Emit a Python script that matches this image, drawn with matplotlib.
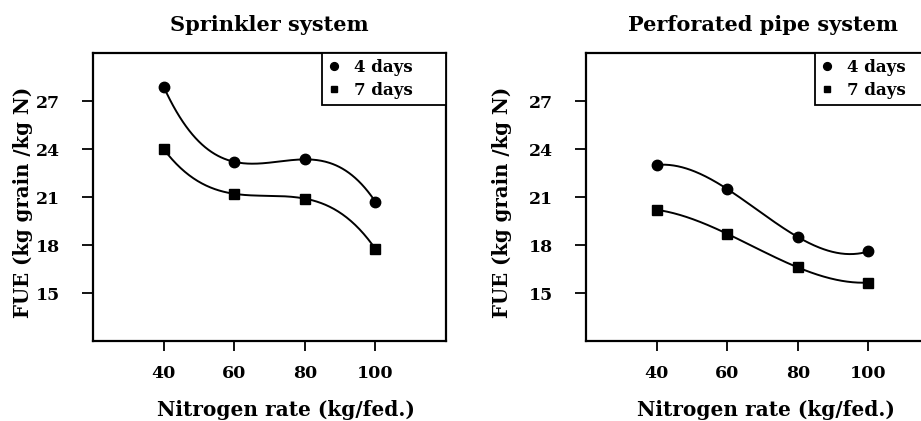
import numpy as np
import matplotlib
matplotlib.use("Agg")
import matplotlib.pyplot as plt

# Data
nitrogen = [40, 60, 80, 100]
sprinkler_4d = [27.9, 23.2, 23.35, 20.7]
sprinkler_7d = [24.0, 21.2, 20.9, 17.75]
pipe_4d = [23.0, 21.5, 18.5, 17.6]
pipe_7d = [20.2, 18.7, 16.6, 15.65]
yticks = [15, 18, 21, 24, 27]
xticks = [40, 60, 80, 100]

plt.rcParams['font.family'] = ['DejaVu Serif']
plt.rcParams['font.weight'] = 'bold'

W, H = 921, 421
fig = plt.figure(figsize=(W / 100, H / 100), dpi=100)


def px(x0, y0, x1, y1):
    # pixel box -> figure fraction [left, bottom, width, height]
    return [x0 / W, 1 - y1 / H, (x1 - x0) / W, (y1 - y0) / H]


def smooth(x, y):
    coef = np.polyfit(x, y, 3)
    xs = np.linspace(min(x), max(x), 200)
    return xs, np.polyval(coef, xs)


def draw_panel(box, title, y4, y7, ylab_x, xlab_x):
    ax = fig.add_axes(box)
    for y, marker, label, ms in [(y4, 'o', '4 days', 7.5), (y7, 's', '7 days', 6.5)]:
        xs, ys = smooth(nitrogen, y)
        ax.plot(xs, ys, color='black', lw=1.4)
        ax.plot(nitrogen, y, marker, color='black', ms=ms, label=label, ls='none')
    ax.set_xlim(20, 120)
    ax.set_ylim(12, 30)
    ax.set_xticks(xticks)
    ax.set_yticks(yticks)
    ax.tick_params(axis='x', length=7, width=1.3, pad=10, labelsize=12.5)
    ax.tick_params(axis='y', length=8, width=1.3, pad=16, labelsize=12.5)
    for lab in ax.get_xticklabels() + ax.get_yticklabels():
        lab.set_fontweight('bold')
    for s in ax.spines.values():
        s.set_linewidth(1.6)
    ax.set_title(title, fontsize=15, fontweight='bold', pad=16)
    leg = ax.legend(loc='upper right', bbox_to_anchor=(0.648, 0.82, 0.352, 0.18),
                    mode='expand', borderaxespad=0, fancybox=False,
                    edgecolor='black', framealpha=1, handlelength=0.8,
                    handletextpad=0.8, borderpad=0.35, labelspacing=0.35,
                    markerscale=0.75, prop={'weight': 'bold', 'size': 12})
    leg.get_frame().set_linewidth(1.3)
    fig.text(ylab_x / W, 1 - 202 / H, 'FUE (kg grain /kg N)', rotation=90,
             ha='center', va='center', fontsize=14.2, fontweight='bold')
    fig.text(xlab_x / W, 1 - 410 / H, 'Nitrogen rate (kg/fed.)',
             ha='center', va='center', fontsize=14.5, fontweight='bold')
    return ax


draw_panel(px(93, 53, 446, 341), 'Sprinkler system', sprinkler_4d, sprinkler_7d, 23, 286)
draw_panel(px(586, 53, 939, 341), 'Perforated pipe system', pipe_4d, pipe_7d, 502, 766)

fig.savefig('out.png', dpi=100)
